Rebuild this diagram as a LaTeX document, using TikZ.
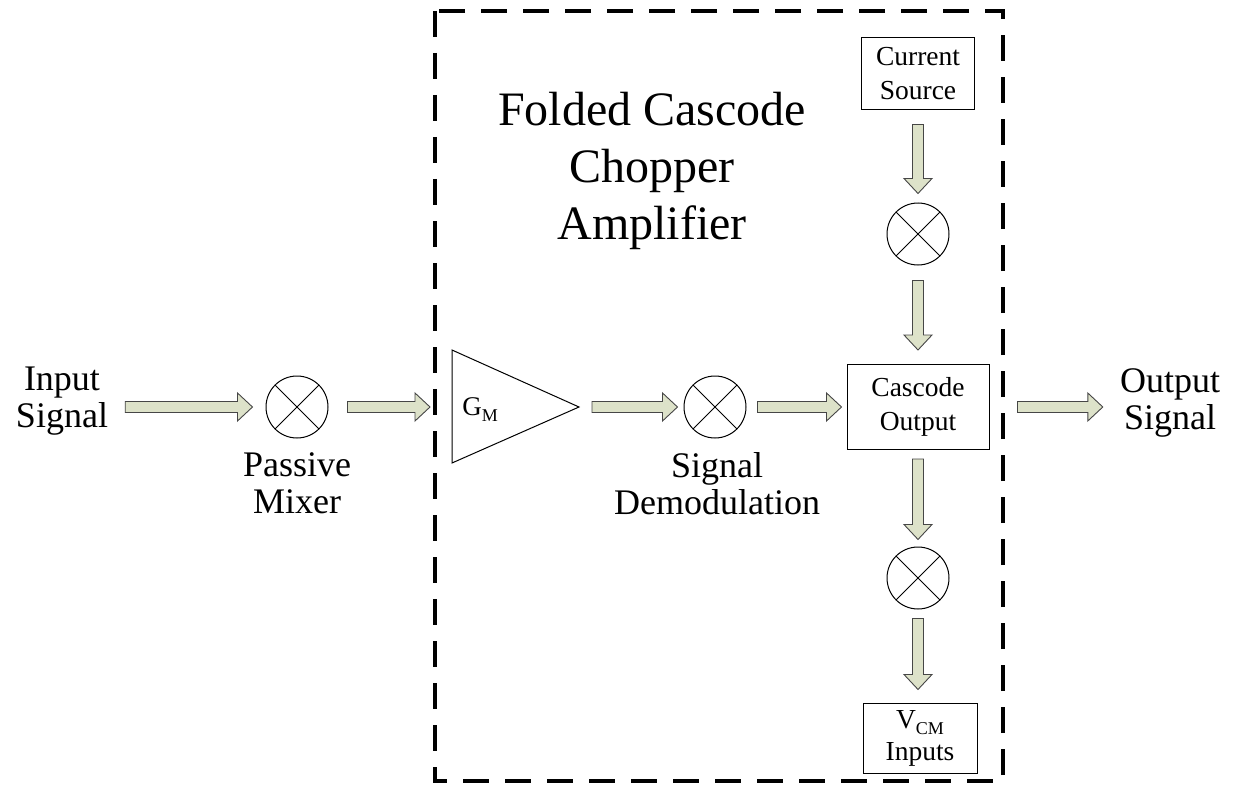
\documentclass[tikz,border=0pt]{standalone}
\usepackage{fontspec}
\setmainfont{Liberation Serif}
\usetikzlibrary{calc}
\definecolor{arrfill}{RGB}{221,226,201}
\definecolor{arrline}{RGB}{70,70,70}
\newcommand\fsz[2]{\fontsize{#1}{#2}\selectfont}
\begin{document}
\begin{tikzpicture}[x=1pt,y=-1pt,
  fat/.style={draw=arrline, line width=0.9pt, fill=arrfill, line join=miter,
    to path={
      ($(\tikztostart)!5.5pt!90:(\tikztotarget)$)
      -- ($(\tikztotarget)!15pt!(\tikztostart)!5.5pt!90:(\tikztotarget)$)
      -- ($(\tikztotarget)!15pt!(\tikztostart)!14pt!90:(\tikztotarget)$)
      -- (\tikztotarget)
      -- ($(\tikztotarget)!15pt!(\tikztostart)!14pt!-90:(\tikztotarget)$)
      -- ($(\tikztotarget)!15pt!(\tikztostart)!5.5pt!-90:(\tikztotarget)$)
      -- ($(\tikztostart)!5.5pt!-90:(\tikztotarget)$)
      -- cycle}},
  mix/.style={circle, draw, line width=1pt, minimum size=62pt, inner sep=0pt,
    path picture={\draw[line width=1pt]
      (path picture bounding box.north west) -- (path picture bounding box.south east)
      (path picture bounding box.north east) -- (path picture bounding box.south west);}},
  bx/.style={draw, line width=1pt, inner sep=0pt, align=center, font=\fsz{27.5}{34}},
  lbl/.style={inner sep=0pt, align=center, font=\fsz{36}{37}},
]
\useasboundingbox (0,0) rectangle (1240,789);

% dashed enclosure
\draw[line width=4pt, dash pattern=on 26pt off 16pt] (435,11) rectangle (1003,781);

% title
\node[inner sep=0pt, align=center, font=\fsz{48}{57}, anchor=north] (title) at (652,92)
  {Folded Cascode\\Chopper\\Amplifier};

% labels
\node[lbl, anchor=north] (inp) at (62,367) {Input\\Signal};
\node[lbl, anchor=north] (outp) at (1170,368) {Output\\Signal};
\node[lbl, anchor=north] (pmtxt) at (297,452) {Passive\\Mixer};
\node[lbl, anchor=north] (sdtxt) at (717,452) {Signal\\Demodulation};

% mixers
\node[mix] (m1) at (297,407) {};
\node[mix] (m2) at (715,407) {};
\node[mix] (m3) at (918,234) {};
\node[mix] (m4) at (918,578) {};

% amplifier triangle
\draw[line width=1pt] (452,350) -- (579,407) -- (452,463) -- cycle;
\coordinate (gmin) at (452,407);
\coordinate (gmtip) at (579,407);
\node[inner sep=0pt, font=\fsz{27}{30}] (gm) at (480,410)
  {G\raisebox{-0.22em}{\fsz{18}{18}M}};

% boxes
\node[bx, minimum width=113pt, minimum height=72pt] (cs) at (918,74) {Current\\Source};
\node[bx, minimum width=142pt, minimum height=85pt] (cas) at (918,407) {Cascode\\Output};
\node[bx, minimum width=114pt, minimum height=70pt] (vcm) at (920,738)
  {V\raisebox{-0.22em}{\fsz{18}{18}CM}\\[-2pt]Inputs};

% block arrows
\draw[fat] ([xshift=17pt]inp.east |- m1.west) to ([xshift=-13pt]m1.west);
\draw[fat] ([xshift=19pt]m1.east) to ([xshift=-22pt]gmin);
\draw[fat] ([xshift=13pt]gmtip) to ([xshift=-6pt]m2.west);
\draw[fat] ([xshift=11pt]m2.east) to ([xshift=-5pt]cas.west);
\draw[fat] ([xshift=28pt]cas.east) to ([xshift=-17pt]outp.west |- cas.east);
\draw[fat] ([yshift=-14pt]cs.south) to ([yshift=9pt]m3.north);
\draw[fat] ([yshift=-15pt]m3.south) to ([yshift=14pt]cas.north);
\draw[fat] ([yshift=-9pt]cas.south) to ([yshift=7pt]m4.north);
\draw[fat] ([yshift=-9pt]m4.south) to ([yshift=13pt]m4.south |- vcm.north);
\end{tikzpicture}
\end{document}
